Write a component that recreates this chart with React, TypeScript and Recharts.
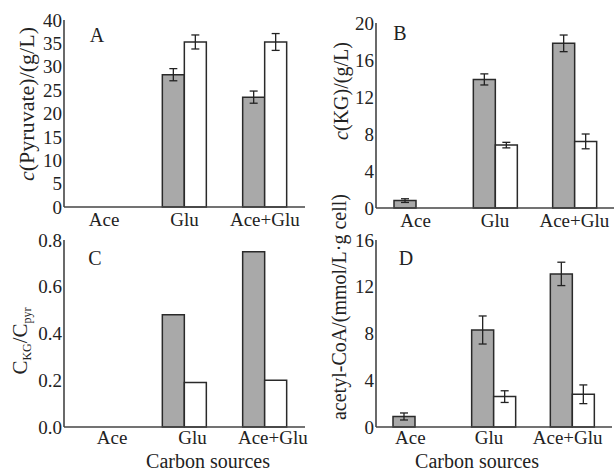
import { BarChart, Bar, XAxis, YAxis, ErrorBar } from 'recharts'

const SOURCES = ['Ace', 'Glu', 'Ace+Glu']

// panel A: pyruvate, g/L
const PYR_GRAY = [0, 28.3, 23.5]
const PYR_GRAY_ERR = [null, 1.3, 1.3]
const PYR_WHITE = [0, 35.3, 35.3]
const PYR_WHITE_ERR = [null, 1.5, 1.8]
const PYR_TICKS = [0, 5, 10, 15, 20, 25, 30, 35, 40]

// panel B: alpha-ketoglutarate, g/L
const KG_GRAY = [0.8, 13.9, 17.8]
const KG_GRAY_ERR = [0.2, 0.6, 0.9]
const KG_WHITE = [0, 6.8, 7.2]
const KG_WHITE_ERR = [null, 0.3, 0.8]
const KG_TICKS = [0, 4, 8, 12, 16, 20]

// panel C: ratio KG / pyruvate
const RATIO_GRAY = [0, 0.48, 0.75]
const RATIO_WHITE = [0, 0.19, 0.2]
const RATIO_TICKS = [0, 0.2, 0.4, 0.6, 0.8]

// panel D: acetyl-CoA
const COA_GRAY = [0.9, 8.3, 13.1]
const COA_GRAY_ERR = [0.3, 1.2, 1.0]
const COA_WHITE = [0, 2.6, 2.8]
const COA_WHITE_ERR = [null, 0.5, 0.8]
const COA_TICKS = [0, 4, 8, 12, 16]

const FONT = '"Liberation Serif", "Times New Roman", serif'
const INK = '#222'
const AXIS = '#444'
const GRAY = '#a9a9a9'

const rows = (g: number[], ge: (number | null)[] | null, w: number[], we: (number | null)[] | null) =>
  SOURCES.map((name, i) => ({
    name,
    gray: g[i],
    grayErr: ge ? ge[i] : null,
    white: w[i],
    whiteErr: we ? we[i] : null,
  }))

const tickStyle = { fontSize: 19, fill: INK, fontFamily: FONT }

function Panel(props: {
  data: any[]
  ticks: number[]
  width: number
  height: number
  margin: any
  yWidth: number
  xHeight: number
  errors: boolean
  fmt?: (v: number) => string
  children?: any
  xShift?: number
  xMargin?: number
  xLabel?: { x: number; y: number }
}) {
  const { data, ticks, errors } = props
  return (
    <BarChart
      width={props.width}
      height={props.height}
      data={data}
      margin={props.margin}
      barSize={22}
      barGap={0}
    >
      <XAxis
        dataKey="name"
        height={props.xHeight}
        tickLine={false}
        tickSize={0}
        tickMargin={props.xMargin ?? 6}
        axisLine={{ stroke: AXIS, strokeWidth: 1.6 }}
        tick={{ ...tickStyle, dx: props.xShift ?? 0 }}
        interval={0}
        label={
          props.xLabel
            ? {
                content: () => (
                  <text x={props.xLabel!.x} y={props.xLabel!.y} textAnchor="middle" fontSize={20} fill={INK} fontFamily={FONT}>
                    Carbon sources
                  </text>
                ),
              }
            : undefined
        }
      />
      <YAxis
        width={props.yWidth}
        domain={[ticks[0], ticks[ticks.length - 1]]}
        ticks={ticks}
        interval={0}
        tickLine={false}
        tickSize={0}
        tickMargin={2}
        tickFormatter={props.fmt}
        axisLine={{ stroke: AXIS, strokeWidth: 1.6 }}
        tick={tickStyle}
      />
      <Bar dataKey="gray" fill={GRAY} stroke="#2a2a2a" strokeWidth={1.5} isAnimationActive={false}>
        {errors && <ErrorBar dataKey="grayErr" width={4} stroke="#222" strokeWidth={1.3} />}
      </Bar>
      <Bar dataKey="white" fill="#ffffff" stroke="#2a2a2a" strokeWidth={1.5} isAnimationActive={false}>
        {errors && <ErrorBar dataKey="whiteErr" width={4} stroke="#222" strokeWidth={1.3} />}
      </Bar>
      {props.children}
    </BarChart>
  )
}

const letter = (x: number, y: number, s: string) => (
  <text x={x} y={y} textAnchor="middle" fontSize={20} fill={INK} fontFamily={FONT}>
    {s}
  </text>
)

export default function App() {
  return (
    <div style={{ position: 'absolute', left: 0, top: 0, width: 614, height: 475, background: '#fff', fontFamily: FONT }}>
      <div style={{ position: 'absolute', left: 0, top: 0 }}>
        <Panel
          data={rows(PYR_GRAY, PYR_GRAY_ERR, PYR_WHITE, PYR_WHITE_ERR)}
          ticks={PYR_TICKS}
          width={310}
          height={232}
          margin={{ top: 20, right: 5, left: 0, bottom: 0 }}
          yWidth={64}
          xHeight={25}
          errors
        >
          {letter(97, 42, 'A')}
          <text transform="rotate(-90, 34, 104)" x={34} y={104} textAnchor="middle" fontSize={22} fill={INK} fontFamily={FONT}>
            <tspan fontStyle="italic">c</tspan>(Pyruvate)/(g/L)
          </text>
        </Panel>
      </div>
      <div style={{ position: 'absolute', left: 300, top: 0 }}>
        <Panel
          data={rows(KG_GRAY, KG_GRAY_ERR, KG_WHITE, KG_WHITE_ERR)}
          ticks={KG_TICKS}
          width={314}
          height={232}
          margin={{ top: 23, right: 0, left: 0, bottom: 0 }}
          yWidth={76}
          xHeight={24}
          errors
        >
          {letter(100, 40, 'B')}
          <text transform="rotate(-90, 48, 91)" x={48} y={91} textAnchor="middle" fontSize={20} fill={INK} fontFamily={FONT}>
            <tspan fontStyle="italic">c</tspan>(KG)/(g/L)
          </text>
        </Panel>
      </div>
      <div style={{ position: 'absolute', left: 0, top: 225 }}>
        <Panel
          data={rows(RATIO_GRAY, null, RATIO_WHITE, null)}
          ticks={RATIO_TICKS}
          width={310}
          height={250}
          margin={{ top: 15, right: 5, left: 0, bottom: 0 }}
          yWidth={64}
          xHeight={48}
          errors={false}
          xShift={8}
          xMargin={4}
          fmt={(v) => v.toFixed(1)}
          xLabel={{ x: 208, y: 243 }}
        >
          {letter(95, 40, 'C')}
          <text transform="rotate(-90, 27, 116)" x={27} y={116} textAnchor="middle" fontSize={21} fill={INK} fontFamily={FONT}>
            C<tspan fontSize={12} dy={4}>KG</tspan>
            <tspan dy={-4}>/C</tspan>
            <tspan fontSize={12} dy={4}>pyr</tspan>
          </text>
        </Panel>
      </div>
      <div style={{ position: 'absolute', left: 300, top: 180 }}>
        <Panel
          data={rows(COA_GRAY, COA_GRAY_ERR, COA_WHITE, COA_WHITE_ERR)}
          ticks={COA_TICKS}
          width={314}
          height={295}
          margin={{ top: 60, right: 2, left: 0, bottom: 0 }}
          yWidth={76}
          xHeight={48}
          errors
          xShift={-5}
          xMargin={4}
          xLabel={{ x: 177, y: 288 }}
        >
          {letter(106, 85, 'D')}
          <text transform="rotate(-90, 46, 127)" x={46} y={127} textAnchor="middle" fontSize={20} fill={INK} fontFamily={FONT}>
            acetyl-CoA/(mmol/L·g cell)
          </text>
        </Panel>
      </div>
    </div>
  )
}
